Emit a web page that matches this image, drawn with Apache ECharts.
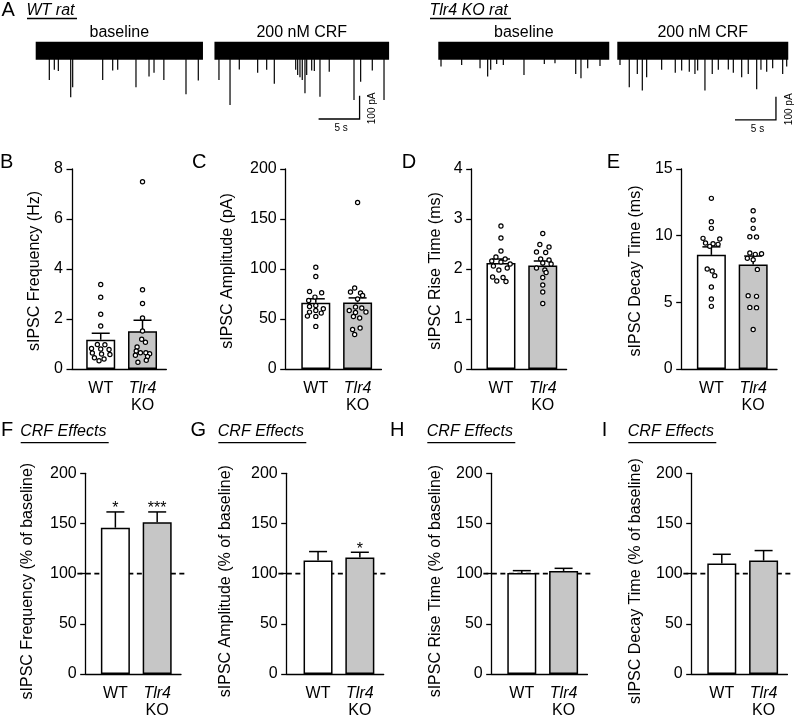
<!DOCTYPE html>
<html><head><meta charset="utf-8">
<script src="https://cdn.jsdelivr.net/npm/echarts@6/dist/echarts.min.js"></script>
<style>html,body{margin:0;padding:0;background:#fff}#c{width:794px;height:716px}</style>
</head><body><div id="c"></div><script>
// ================= DATA =================
const groupLabels = ['WT', 'Tlr4 KO'];

// Panel A: example traces (time in s, event amplitude in pA)
const segmentLabels = ['baseline', '200 nM CRF'];
const wtSegments = [[0, 20.4], [21.8, 43.1]];
const koSegments = [[0, 20.85], [21.83, 42.68]];
const noiseAmp = 39;
const wtBaselineEvents = [[1.66,125],[2.27,82],[2.76,87],[4.27,200],[4.51,157],[8.17,125],[9.39,85],[10.0,82],[12.23,157],[13.82,111],[14.43,94],[15.63,125],[18.33,187],[19.83,128]];
const wtCrfEvents = [[22.35,125],[23.70,233],[24.83,80],[27.07,94],[28.17,82],[29.10,142],[31.71,82],[31.95,104],[32.23,114],[32.51,125],[32.84,182],[33.05,104],[33.66,85],[33.98,87],[34.67,197],[35.80,90],[38.82,211],[39.63,133],[41.05,85],[42.48,211]];
const koBaselineEvents = [[0.33,68],[2.85,61],[5.09,75],[6.02,111],[6.39,82],[7.12,57],[7.93,61],[10.45,104],[12.93,57],[14.23,54],[16.76,100],[17.40,118],[18.22,75],[19.72,65]];
const koCrfEvents = [[22.16,61],[23.29,157],[24.27,100],[24.88,171],[25.41,114],[27.24,82],[28.90,94],[29.68,85],[30.61,90],[31.30,100],[31.63,85],[32.52,171],[33.41,100],[34.15,82],[35.37,80],[35.98,94],[37.00,114],[37.80,100],[38.83,165],[39.35,82],[40.05,90],[40.78,75],[42.00,100],[42.49,68]];
// scale bars: [corner time, corner pA, time length (s), current length (pA)]
const wtScaleBar = [39.5, -293, 5, 100];
const koScaleBar = [41.18, -297, 5, 100];
const scaleBarLabels = ['5 s', '100 pA'];

// Panel B: sIPSC frequency (Hz)
const freqWT = [3.38, 2.87, 2.19, 1.72, 0.98, 0.97, 0.82, 0.80, 0.78, 0.64, 0.60, 0.58, 0.45, 0.40, 0.33];
const freqWTJitter = [0, 0, 0, 0, -0.08, 0.1, -0.22, 0.0, 0.2, -0.2, 0.02, 0.22, -0.15, 0.08, -0.04];
const freqKO = [7.49, 3.17, 2.62, 2.04, 1.52, 1.19, 1.07, 0.88, 0.72, 0.65, 0.65, 0.61, 0.55, 0.50, 0.35, 0.27];
const freqKOJitter = [0, 0, 0, 0, 0, -0.02, 0.07, -0.13, -0.15, -0.05, 0.08, 0.17, -0.17, 0.12, 0.09, -0.11];
const freqMean = [1.17, 1.51];
const freqSem = [0.26, 0.44];

// Panel C: sIPSC amplitude (pA)
const ampWT = [101.8, 92.5, 77.5, 76.2, 71.9, 68.6, 63.6, 62.6, 58.6, 60.2, 56.9, 55.9, 52.6, 52.9, 42.6];
const ampWTJitter = [0, 0, -0.15, 0.14, -0.02, -0.17, 0, -0.15, 0, 0.18, -0.15, 0.13, 0, -0.2, 0];
const ampKO = [166.5, 81, 77, 76, 73.5, 70, 62, 61, 58.5, 57, 56.5, 52.5, 51, 41, 39.5, 34.5];
const ampKOJitter = [0, -0.07, -0.17, 0.07, 0.12, 0, -0.05, 0.1, -0.2, 0.2, -0.05, -0.1, 0.05, 0.06, -0.12, -0.07];
const ampMean = [66.2, 66.6];
const ampSem = [4.0, 4.5];

// Panel D: sIPSC rise time (ms)
const riseWT = [2.86, 2.62, 2.36, 2.24, 2.2, 2.16, 2.14, 2.1, 2.06, 2.02, 1.98, 1.84, 1.83, 1.76, 1.75];
const riseWTJitter = [0, 0, 0, -0.12, 0.1, -0.22, 0.0, 0.22, -0.18, 0.15, -0.05, -0.2, 0.05, -0.1, 0.12];
const riseKO = [2.71, 2.49, 2.44, 2.34, 2.33, 2.2, 2.18, 2.12, 2.1, 2.02, 1.98, 1.93, 1.83, 1.68, 1.54, 1.31];
const riseKOJitter = [0, -0.07, 0.15, -0.15, 0.07, -0.05, 0.15, 0.0, 0.2, -0.15, 0.05, 0.08, 0, 0, 0, 0];
const riseMean = [2.12, 2.07];
const riseSem = [0.08, 0.09];

// Panel E: sIPSC decay time (ms)
const decayWT = [12.8, 11.05, 10.55, 9.8, 9.75, 9.45, 9.4, 9.35, 9.2, 7.5, 7.35, 7.0, 6.15, 5.25, 4.7];
const decayWTJitter = [0, 0, 0, -0.2, 0.2, -0.14, 0.04, 0.16, -0.04, -0.1, 0.02, 0.08, 0, 0, 0];
const decayKO = [11.87, 11.17, 10.55, 9.92, 9.9, 8.7, 8.65, 8.6, 8.3, 8.2, 7.47, 5.5, 5.45, 4.62, 4.6, 2.96];
const decayKOJitter = [0, 0, 0, -0.08, 0.08, -0.08, 0.2, 0.05, -0.14, 0.0, 0.1, -0.12, 0.08, -0.08, 0.08, 0];
const decayMean = [8.56, 7.84];
const decaySem = [0.6, 0.63];

// Panels F-I: CRF effects (% of baseline)
const crfFreqMean = [145.8, 151.2];  const crfFreqSem = [15.7, 10.3];  const crfFreqSig = ['*', '***'];
const crfAmpMean = [113, 116];       const crfAmpSem = [9, 5.3];       const crfAmpSig = ['', '*'];
const crfRiseMean = [100.7, 102.7];  const crfRiseSem = [2.3, 2.6];    const crfRiseSig = ['', ''];
const crfDecayMean = [110, 113];     const crfDecaySem = [9.3, 10];    const crfDecaySig = ['', ''];
const baselineRef = 100;

// ================= BUILD =================
const FONT = '"Liberation Sans", Arial, sans-serif';
const UNIT = 41.8, XMAX = 1.57;
const grids = [], xAxes = [], yAxes = [], series = [];

function hiddenAxes(gi, xmin, xmax, ymin, ymax) {
  xAxes.push({gridIndex: gi, type: 'value', min: xmin, max: xmax, show: false});
  yAxes.push({gridIndex: gi, type: 'value', min: ymin, max: ymax, show: false});
}

function addTrace(left, segments, events, scaleBar) {
  const gi = grids.length;
  grids.push({left: left, top: 29.8, width: 353.4, height: 95.5, outerBoundsMode: 'none', containLabel: false});
  hiddenAxes(gi, 0, 43.1, -320, 90);
  series.push({
    type: 'custom', xAxisIndex: gi, yAxisIndex: gi, silent: true, animation: false, z: 2,
    data: segments,
    renderItem: function (params, api) {
      const a = api.coord([api.value(0), noiseAmp]);
      const b = api.coord([api.value(1), -noiseAmp]);
      return {type: 'group', children: [
        {type: 'rect', shape: {x: a[0], y: a[1], width: b[0] - a[0], height: b[1] - a[1]}, style: {fill: '#000'}},
        {type: 'text', x: (a[0] + b[0]) / 2, y: a[1] - 1.5,
          style: {text: segmentLabels[params.dataIndex], fill: '#000', font: '16px ' + FONT, align: 'center', verticalAlign: 'bottom'}}
      ]};
    }
  });
  series.push({
    type: 'custom', xAxisIndex: gi, yAxisIndex: gi, silent: true, animation: false, z: 2,
    data: events,
    renderItem: function (params, api) {
      const t = api.value(0), amp = api.value(1);
      const p0 = api.coord([t, 0]), p1 = api.coord([t, -amp]);
      return {type: 'line', shape: {x1: p0[0], y1: p0[1], x2: p1[0], y2: p1[1]}, style: {stroke: '#000', lineWidth: 1.2}};
    }
  });
  series.push({
    type: 'custom', xAxisIndex: gi, yAxisIndex: gi, silent: true, animation: false, z: 2,
    data: [scaleBar],
    renderItem: function (params, api) {
      const t = api.value(0), y = api.value(1), dt = api.value(2), dy = api.value(3);
      const c = api.coord([t, y]), h = api.coord([t - dt, y]), v = api.coord([t, y + dy]);
      return {type: 'group', children: [
        {type: 'polyline', shape: {points: [h, c, v]}, style: {stroke: '#000', lineWidth: 1.3, fill: null}},
        {type: 'text', x: (h[0] + c[0]) / 2 + 2, y: c[1] + 4,
          style: {text: scaleBarLabels[0], fill: '#000', font: '10px ' + FONT, align: 'center', verticalAlign: 'top'}},
        {type: 'text', x: c[0] + 13, y: (c[1] + v[1]) / 2 + 1, rotation: Math.PI / 2,
          style: {text: scaleBarLabels[1], fill: '#000', font: '10px ' + FONT, align: 'center', verticalAlign: 'middle'}}
      ]};
    }
  });
}

addTrace(35.7, wtSegments, wtBaselineEvents.concat(wtCrfEvents), wtScaleBar);
addTrace(438.3, koSegments, koBaselineEvents.concat(koCrfEvents), koScaleBar);

function addPanel(p) {
  const gi = grids.length;
  grids.push({left: p.left, top: p.top, width: (XMAX - p.xmin) * UNIT, height: p.height, outerBoundsMode: 'none', containLabel: false});
  xAxes.push({
    gridIndex: gi, type: 'value', min: p.xmin, max: XMAX,
    splitLine: {show: false}, axisTick: {show: false},
    axisLine: {show: true, onZero: false, lineStyle: {color: '#000', width: 1.3}},
    axisLabel: {
      customValues: [0, 1], margin: 11, color: '#000',
      formatter: function (v) {
        const parts = groupLabels[Math.round(v)].split(' ');
        return parts.length > 1 ? '{i|' + parts[0] + '}\n{n|' + parts[1] + '}' : '{n|' + parts[0] + '}';
      },
      rich: {
        i: {fontStyle: 'italic', fontSize: 16, lineHeight: 17, fontFamily: FONT, color: '#000'},
        n: {fontSize: 16, lineHeight: 17, fontFamily: FONT, color: '#000'}
      }
    }
  });
  yAxes.push({
    gridIndex: gi, type: 'value', min: 0, max: p.ymax, interval: p.interval,
    splitLine: {show: false},
    axisLine: {show: true, onZero: false, lineStyle: {color: '#000', width: 1.3}},
    axisTick: {show: true, length: 5.5, inside: false, lineStyle: {color: '#000', width: 1.3}},
    axisLabel: {fontSize: 16, color: '#000', fontFamily: FONT, margin: 9},
    name: p.name, nameLocation: 'middle', nameRotate: 90, nameGap: p.nameGap,
    nameTextStyle: {fontSize: 16, color: '#000', fontFamily: FONT, padding: [0, p.namePad, 0, 0]}
  });
  if (p.ref != null) {
    series.push({
      type: 'custom', xAxisIndex: gi, yAxisIndex: gi, silent: true, animation: false, z: 1, clip: false,
      data: [[p.ref]],
      renderItem: function (params, api) {
        const a = api.coord([p.xmin - 0.2, api.value(0)]), b = api.coord([XMAX + 0.08, api.value(0)]);
        return {type: 'line', shape: {x1: a[0], y1: a[1], x2: b[0], y2: b[1]}, style: {stroke: '#000', lineWidth: 1.6, lineDash: [5, 3.5]}};
      }
    });
  }
  series.push({
    type: 'bar', xAxisIndex: gi, yAxisIndex: gi, barWidth: 29, silent: true, animation: false, z: 3,
    data: [{value: [0, p.mean[0]], itemStyle: {color: '#ffffff'}}, {value: [1, p.mean[1]], itemStyle: {color: '#c6c6c6'}}],
    itemStyle: {borderColor: '#000', borderWidth: 1.5}
  });
  const sig = p.sig || ['', ''];
  series.push({
    type: 'custom', xAxisIndex: gi, yAxisIndex: gi, silent: true, animation: false, z: 4, clip: false,
    data: [[0, p.mean[0], p.sem[0]], [1, p.mean[1], p.sem[1]]],
    renderItem: function (params, api) {
      const x = api.value(0), m = api.value(1), s = api.value(2);
      const p0 = api.coord([x, m]), p1 = api.coord([x, m + s]);
      const children = [
        {type: 'line', shape: {x1: p0[0], y1: p0[1], x2: p1[0], y2: p1[1]}, style: {stroke: '#000', lineWidth: 1.5}},
        {type: 'line', shape: {x1: p1[0] - 9, y1: p1[1], x2: p1[0] + 9, y2: p1[1]}, style: {stroke: '#000', lineWidth: 1.5}}
      ];
      const t = sig[params.dataIndex];
      if (t) children.push({type: 'text', x: p1[0], y: p1[1] - 3, style: {text: t, fill: '#000', font: '16px ' + FONT, align: 'center', verticalAlign: 'middle'}});
      return {type: 'group', children: children};
    }
  });
  if (p.wt) {
    series.push({
      type: 'scatter', xAxisIndex: gi, yAxisIndex: gi, silent: true, animation: false, z: 5,
      symbol: 'circle', symbolSize: 4.2,
      itemStyle: {color: '#fff', borderColor: '#000', borderWidth: 1.2, opacity: 1},
      data: p.wt.map((v, i) => [p.wtJ[i], v]).concat(p.ko.map((v, i) => [1 + p.koJ[i], v]))
    });
  }
}

const TOP1 = 169, H1 = 200, TOP2 = 473.3, H2 = 200.7;
addPanel({left: 72, xmin: -0.687, top: TOP1, height: H1, ymax: 8, interval: 2, name: 'sIPSC Frequency (Hz)', nameGap: 29, namePad: 4,
  mean: freqMean, sem: freqSem, wt: freqWT, wtJ: freqWTJitter, ko: freqKO, koJ: freqKOJitter});
addPanel({left: 285.7, xmin: -0.72, top: TOP1, height: H1, ymax: 200, interval: 50, name: 'sIPSC Amplitude (pA)', nameGap: 50, namePad: 4,
  mean: ampMean, sem: ampSem, wt: ampWT, wtJ: ampWTJitter, ko: ampKO, koJ: ampKOJitter});
addPanel({left: 471.7, xmin: -0.70, top: TOP1, height: H1, ymax: 4, interval: 1, name: 'sIPSC Rise Time (ms)', nameGap: 28, namePad: 4,
  mean: riseMean, sem: riseSem, wt: riseWT, wtJ: riseWTJitter, ko: riseKO, koJ: riseKOJitter});
addPanel({left: 681.7, xmin: -0.71, top: TOP1, height: H1, ymax: 15, interval: 5, name: 'sIPSC Decay Time (ms)', nameGap: 38, namePad: 4,
  mean: decayMean, sem: decaySem, wt: decayWT, wtJ: decayWTJitter, ko: decayKO, koJ: decayKOJitter});
addPanel({left: 85.7, xmin: -0.71, top: TOP2, height: H2, ymax: 200, interval: 50, name: 'sIPSC Frequency (% of baseline)', nameGap: 50, namePad: 15,
  mean: crfFreqMean, sem: crfFreqSem, sig: crfFreqSig, ref: baselineRef});
addPanel({left: 286.7, xmin: -0.75, top: TOP2, height: H2, ymax: 200, interval: 50, name: 'sIPSC Amplitude (% of baseline)', nameGap: 53, namePad: 15,
  mean: crfAmpMean, sem: crfAmpSem, sig: crfAmpSig, ref: baselineRef});
addPanel({left: 491.7, xmin: -0.72, top: TOP2, height: H2, ymax: 200, interval: 50, name: 'sIPSC Rise Time (% of baseline)', nameGap: 48, namePad: 15,
  mean: crfRiseMean, sem: crfRiseSem, sig: crfRiseSig, ref: baselineRef});
addPanel({left: 691.7, xmin: -0.72, top: TOP2, height: H2, ymax: 200, interval: 50, name: 'sIPSC Decay Time (% of baseline)', nameGap: 48, namePad: 15,
  mean: crfDecayMean, sem: crfDecaySem, sig: crfDecaySig, ref: baselineRef});

// ---- annotations (panel letters, headings) ----
function txt(x, yBase, text, size, italic) {
  return {type: 'text', x: x, y: yBase + 0.2 * size, silent: true,
    style: {text: text, fill: '#000', font: (italic ? 'italic ' : '') + size + 'px ' + FONT, align: 'left', verticalAlign: 'bottom'}};
}
function uline(x1, x2, y) {
  return {type: 'line', silent: true, shape: {x1: x1, y1: y, x2: x2, y2: y}, style: {stroke: '#000', lineWidth: 1.3}};
}
const graphics = [
  txt(1.5, 16.7, 'A', 20), txt(26.5, 15, 'WT rat', 16, true), uline(27, 77, 18.5),
  txt(429.5, 15, 'Tlr4 KO rat', 16, true), uline(430, 511, 18.5),
  txt(0, 168.5, 'B', 20), txt(192, 168.5, 'C', 20), txt(401.7, 168.5, 'D', 20), txt(606.7, 168.5, 'E', 20),
  txt(1, 436.5, 'F', 20), txt(190.5, 436.5, 'G', 20), txt(390, 436.5, 'H', 20), txt(601.7, 436.5, 'I', 20)
];
[20.7, 218.3, 427.3, 628.3].forEach(function (x) {
  graphics.push(txt(x - 0.5, 436, 'CRF Effects', 16, true));
  graphics.push(uline(x, x + 88, 442.7));
});

const chart = echarts.init(document.getElementById('c'), null, {renderer: 'canvas', width: 794, height: 716});
chart.setOption({
  backgroundColor: '#fff',
  animation: false,
  textStyle: {fontFamily: FONT},
  grid: grids, xAxis: xAxes, yAxis: yAxes, series: series,
  graphic: graphics
});
</script></body></html>
